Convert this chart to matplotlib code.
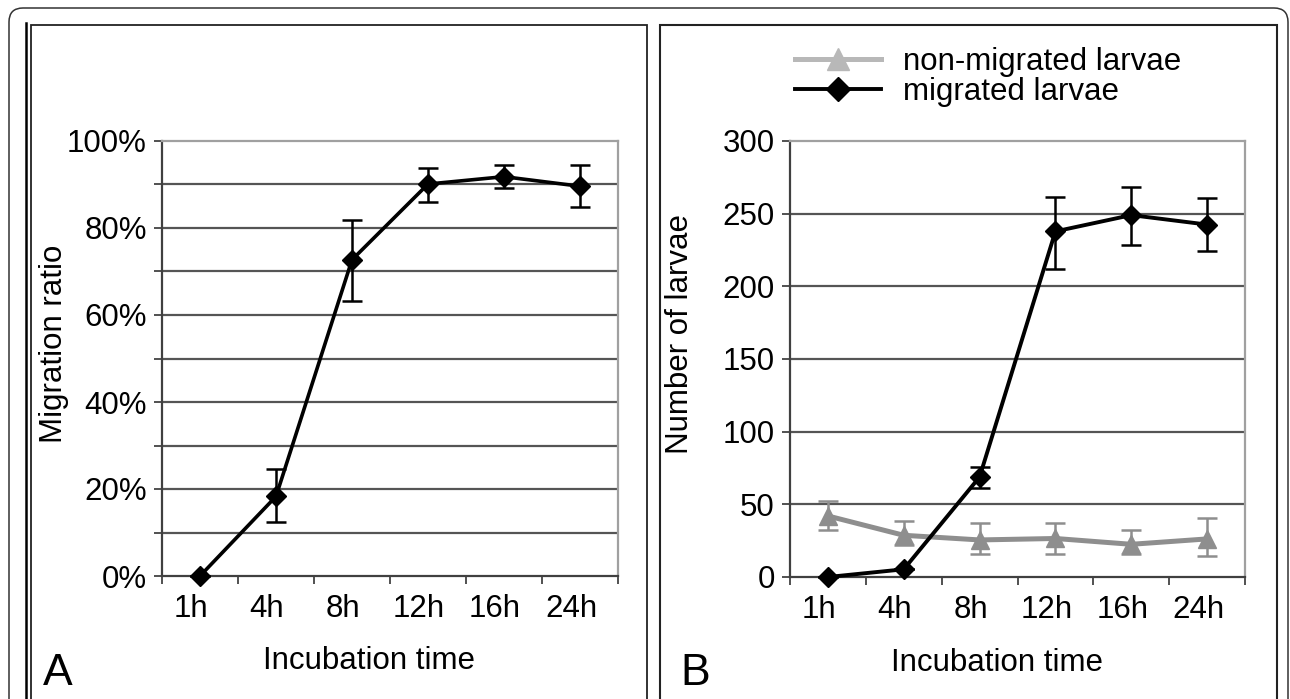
import matplotlib
matplotlib.use("Agg")
import matplotlib.pyplot as plt
import numpy as np
from matplotlib.patches import FancyBboxPatch, Rectangle
from matplotlib.lines import Line2D
from matplotlib.transforms import IdentityTransform, ScaledTranslation
from matplotlib.ticker import FixedLocator, PercentFormatter

plt.rcParams['font.family'] = ['Liberation Sans', 'DejaVu Sans']

# data
times = ["1h", "4h", "8h", "12h", "16h", "24h"]

ratio_mean = [0.0, 18.3, 72.7, 90.1, 91.8, 89.6]
ratio_low = [0.0, 12.5, 63.3, 86.0, 89.1, 84.8]
ratio_high = [0.0, 24.5, 81.9, 93.7, 94.5, 94.5]

migrated_mean = [0.0, 5.3, 68.8, 237.8, 249.0, 242.5]
migrated_low = [0.0, 5.3, 61.0, 211.7, 228.6, 224.6]
migrated_high = [0.0, 5.3, 76.0, 261.8, 268.6, 261.0]

nonmig_mean = [42.0, 28.7, 25.5, 26.5, 22.5, 26.2]
nonmig_low = [32.5, 22.0, 16.0, 16.0, 16.0, 14.6]
nonmig_high = [52.4, 38.6, 37.2, 37.2, 32.0, 40.5]

W, H = 1290, 699
FS = 22.5
GRAY = "#8e8e8e"

fig = plt.figure(figsize=(W / 100, H / 100), dpi=100)


def px(x0, y0, x1, y1):
    # pixel box (top-left origin) -> figure fraction rect
    return [x0 / W, 1 - y1 / H, (x1 - x0) / W, (y1 - y0) / H]


def style_axes(ax, ymax, ystep, minor_step):
    x = np.arange(len(times))
    ax.set_xlim(-0.5, len(times) - 0.5)
    ax.set_ylim(0, ymax)
    ax.set_xticks(x)
    ax.set_xticklabels(times, fontsize=FS)
    ax.xaxis.set_minor_locator(FixedLocator(np.arange(-0.5, len(times), 1.0)))
    ax.tick_params(axis="x", which="major", length=0, pad=13)
    ax.tick_params(axis="x", which="minor", length=6, width=1.2, color="#333333")
    ax.set_yticks(np.arange(0, ymax + 1e-9, ystep))
    ax.yaxis.set_minor_locator(FixedLocator(np.arange(0, ymax + 1e-9, minor_step)))
    ax.tick_params(axis="y", which="major", labelsize=FS, length=6, width=1.2,
                   color="#333333", pad=5)
    ax.tick_params(axis="y", which="minor", length=6, width=1.2, color="#333333")
    for v in np.arange(minor_step, ymax - 1e-9, minor_step):
        ax.axhline(v, color="#555555", lw=1.6, zorder=1)
    for s in ("top", "right"):
        ax.spines[s].set_color("#a0a0a0")
        ax.spines[s].set_linewidth(1.6)
    for s in ("left", "bottom"):
        ax.spines[s].set_color("#404040")
        ax.spines[s].set_linewidth(1.6)
    shift = ScaledTranslation(-9 / 100, 0, fig.dpi_scale_trans)
    for lab in ax.get_xticklabels():
        lab.set_transform(lab.get_transform() + shift)


def err(mean, low, high):
    m = np.array(mean)
    return [m - np.array(low), np.array(high) - m]


# panel A
axA = fig.add_axes(px(162, 141, 618, 576))
style_axes(axA, 100, 20, 10)
axA.yaxis.set_major_formatter(PercentFormatter(decimals=0))
xs = np.arange(len(times))
axA.errorbar(xs, ratio_mean, yerr=err(ratio_mean, ratio_low, ratio_high),
             color="black", lw=2.6, marker="D", markersize=10.5, ecolor="black",
             elinewidth=1.8, capsize=7, capthick=1.8, zorder=5, clip_on=False)
axA.set_ylabel("Migration ratio", fontsize=FS)
axA.yaxis.set_label_coords(-0.205, 0.533)
axA.set_xlabel("Incubation time", fontsize=FS)
axA.xaxis.set_label_coords(0.455, -0.162)

# panel B
axB = fig.add_axes(px(790, 141, 1245, 577))
style_axes(axB, 300, 50, 50)
axB.errorbar(xs, nonmig_mean, yerr=err(nonmig_mean, nonmig_low, nonmig_high),
             color=GRAY, lw=3.6, marker="^", markersize=13, ecolor=GRAY,
             elinewidth=1.8, capsize=7, capthick=1.8, zorder=4, clip_on=False)
axB.errorbar(xs, migrated_mean, yerr=err(migrated_mean, migrated_low, migrated_high),
             color="black", lw=2.8, marker="D", markersize=10.5, ecolor="black",
             elinewidth=1.8, capsize=7, capthick=1.8, zorder=5, clip_on=False)
axB.set_ylabel("Number of larvae", fontsize=FS)
axB.yaxis.set_label_coords(-0.208, 0.557)
axB.set_xlabel("Incubation time", fontsize=FS)
axB.xaxis.set_label_coords(0.455, -0.162)

handles = [
    Line2D([], [], color="#b8b8b8", lw=3.6, marker="^", markersize=16),
    Line2D([], [], color="black", lw=2.8, marker="D", markersize=12),
]
fig.legend(handles, ["non-migrated larvae", "migrated larvae"],
           loc="upper left", bbox_to_anchor=(795 / W, 1 - 47 / H),
           frameon=False, fontsize=FS, handlelength=2.75, handletextpad=0.7,
           labelspacing=0.0, borderaxespad=0, borderpad=0)

# panel letters
fig.text(43 / W, 1 - 685 / H, "A", fontsize=32, va="baseline", ha="left")
fig.text(680 / W, 1 - 685 / H, "B", fontsize=32, va="baseline", ha="left")

# frames, drawn in pixel coordinates
ident = IdentityTransform()
fig.add_artist(FancyBboxPatch((9, -30), 1279, H - 8 + 30,
                              boxstyle="round,pad=0,rounding_size=14",
                              transform=ident, fill=False, ec="#333333", lw=1.1))
fig.add_artist(Rectangle((30.5, -30), 647 - 30.5, H - 25 + 30, transform=ident,
                         fill=False, ec="#222222", lw=1.3))
fig.add_artist(Line2D([26, 26], [-30, H - 23], transform=ident,
                      color="black", lw=1.8))
fig.add_artist(Rectangle((659.5, -30), 1277 - 659.5, H - 25 + 30, transform=ident,
                         fill=False, ec="#222222", lw=1.5))

fig.savefig("out.png", dpi=100)
